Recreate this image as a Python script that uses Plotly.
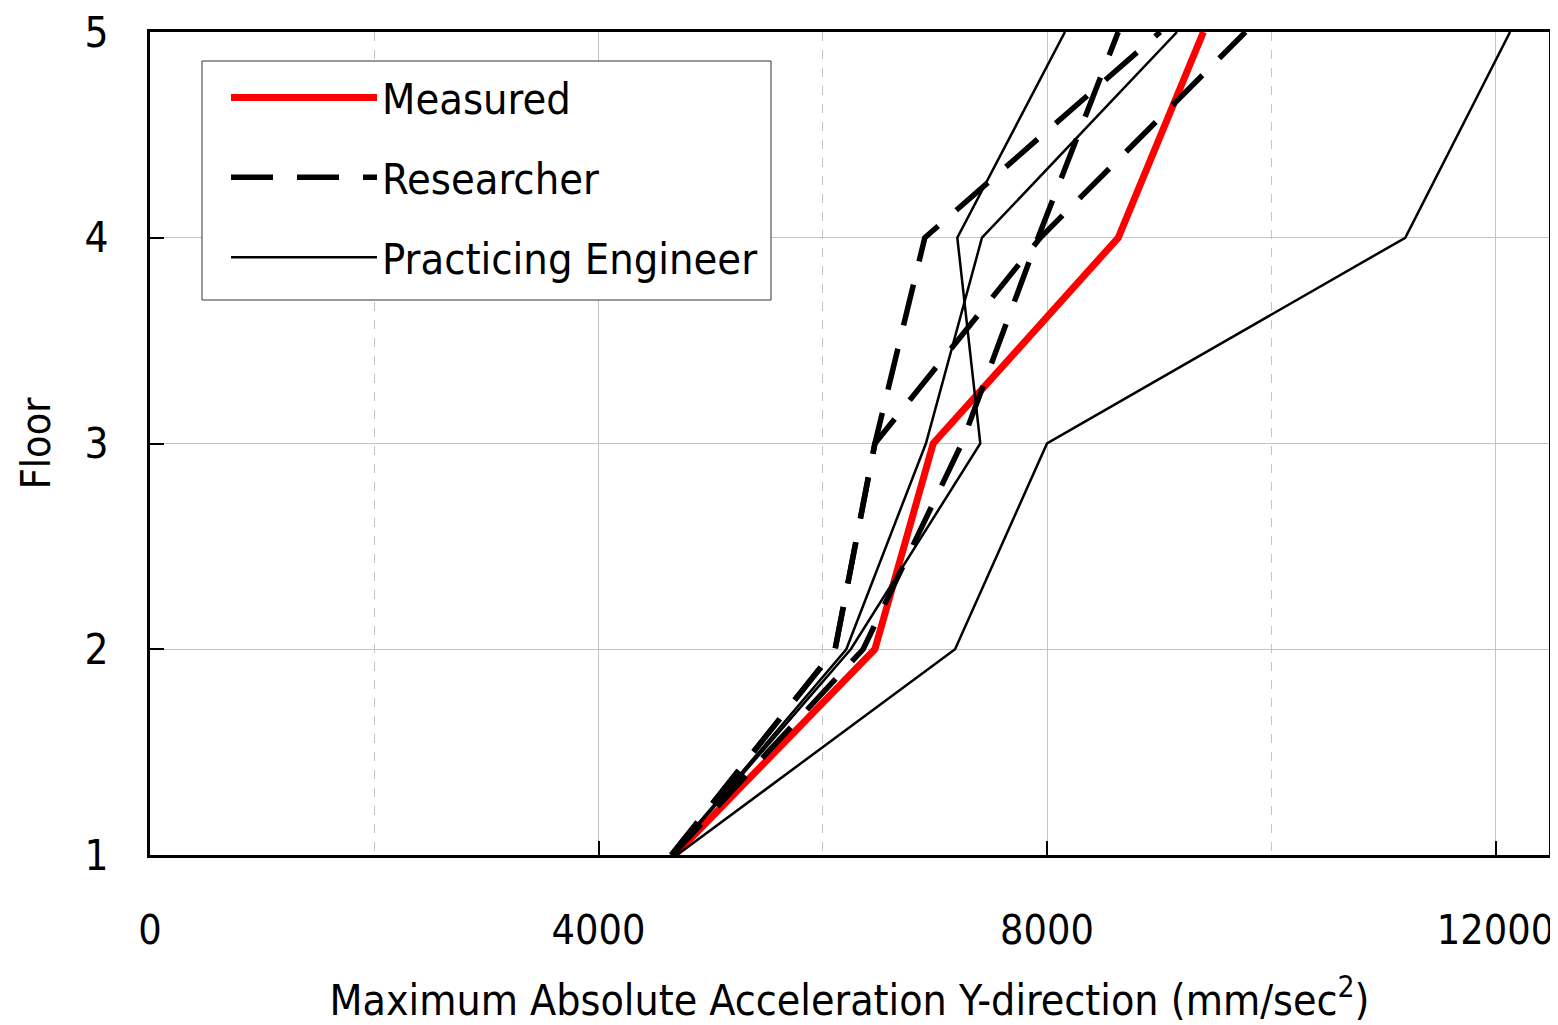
import plotly.graph_objects as go

floors = [1, 2, 3, 4, 5]

measured = [4680, 6465, 6985, 8635, 9395]

researcher_1 = [4650, 6110, 6465, 6910, 9010]
researcher_2 = [4650, 6110, 6465, 7940, 9770]
researcher_3 = [4660, 6360, 7240, 7920, 8635]

engineer_1 = [4700, 7180, 8000, 11195, 12130]
engineer_2 = [4650, 6210, 6920, 7420, 9160]
engineer_3 = [4660, 6250, 7405, 7200, 8160]

x_ticks = [0, 4000, 8000, 12000]
y_ticks = [1, 2, 3, 4, 5]

FONT = "Liberation Sans Narrow, Arial Narrow, DejaVu Sans Condensed, sans-serif"

fig = go.Figure()

fig.add_trace(go.Scatter(x=measured, y=floors, mode="lines", name="Measured",
                         line=dict(color="#ff0000", width=7),
                         legendgroup="m", showlegend=True))

for i, r in enumerate([researcher_1, researcher_2, researcher_3]):
    fig.add_trace(go.Scatter(x=r, y=floors, mode="lines", name="Researcher",
                             line=dict(color="black", width=5.5, dash="42px,24px"),
                             legendgroup="r", showlegend=(i == 0)))

for i, e in enumerate([engineer_1, engineer_2, engineer_3]):
    fig.add_trace(go.Scatter(x=e, y=floors, mode="lines", name="Practicing Engineer",
                             line=dict(color="black", width=2.5),
                             legendgroup="e", showlegend=(i == 0)))

# legend frame (paper coordinates)
fig.add_shape(type="rect", xref="paper", yref="paper",
              x0=(202 - 150) / 1399, x1=(771 - 150) / 1399,
              y0=(855 - 300) / 823, y1=(855 - 61) / 823,
              line=dict(color="#333333", width=1), fillcolor="white", layer="above")

fig.update_layout(
    width=1550, height=1017,
    margin=dict(l=142, r=9, t=24, b=170),
    paper_bgcolor="white", plot_bgcolor="white",
    font=dict(family=FONT, size=42, color="black"),
    showlegend=True,
    legend=dict(
        x=(226 - 150) / 1399, y=(855 - 63) / 823, xanchor="left", yanchor="top",
        bgcolor="rgba(0,0,0,0)", borderwidth=0,
        font=dict(family=FONT, size=43, color="black"),
        itemwidth=146, tracegroupgap=21,
        traceorder="grouped",
    ),
    xaxis=dict(
        range=[0, 12477], tickvals=x_ticks, ticktext=[str(v) for v in x_ticks],
        automargin=False, ticklabeloverflow="allow",
        showline=True, linecolor="black", linewidth=3, mirror=True,
        ticks="inside", ticklen=14, tickwidth=2, tickcolor="black",
        ticklabelstandoff=37,
        showgrid=True, gridcolor="#c4c4c4", gridwidth=1,
        minor=dict(dtick=2000, tick0=0, showgrid=True, gridcolor="#c4c4c4",
                   griddash="dash", gridwidth=1, ticks=""),
        zeroline=False,
        title=dict(text="Maximum Absolute Acceleration Y-direction (mm/sec<sup>2</sup>)",
                   font=dict(family=FONT, size=42.5), standoff=34),
        tickfont=dict(family=FONT, size=41),
    ),
    yaxis=dict(
        range=[1, 5], tickvals=y_ticks,
        automargin=False, ticklabeloverflow="allow",
        showline=True, linecolor="black", linewidth=3, mirror=True,
        ticks="inside", ticklen=14, tickwidth=2, tickcolor="black",
        ticklabelstandoff=30,
        showgrid=True, gridcolor="#c4c4c4", gridwidth=1,
        zeroline=False,
        title=dict(text="Floor", font=dict(family=FONT, size=41), standoff=22),
        tickfont=dict(family=FONT, size=42),
    ),
)

fig.write_html("out.html")
